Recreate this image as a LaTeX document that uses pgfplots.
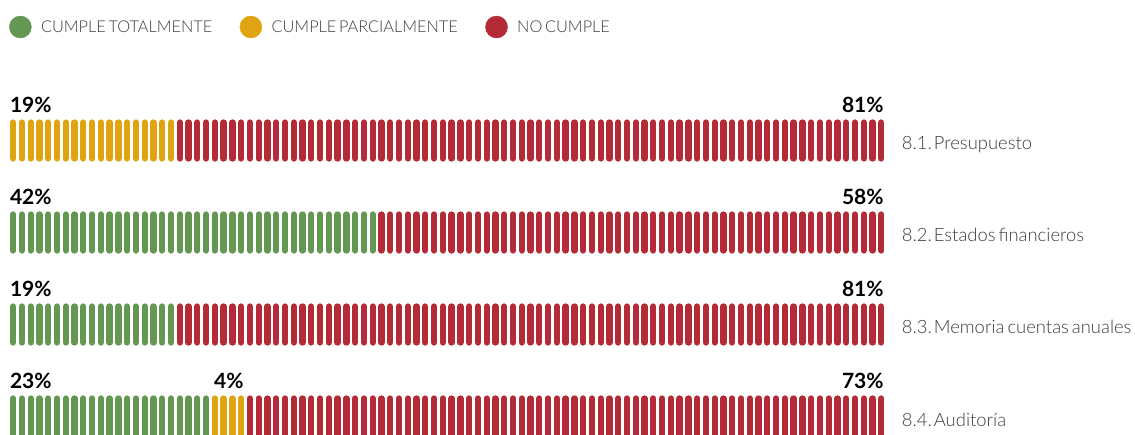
\documentclass[border=0pt]{standalone}
\usepackage{pgfplots}
\pgfplotsset{compat=1.18}
\usepackage{fontspec}
\setmainfont{Lato}[UprightFont={* Light},BoldFont={* Bold},WordSpace=0.6]
\definecolor{cgreen}{RGB}{100,152,82}
\definecolor{cyellow}{RGB}{224,164,18}
\definecolor{cred}{RGB}{180,43,55}
\definecolor{ctext}{RGB}{60,60,60}
\begin{document}
\frenchspacing
\begin{tikzpicture}
\begin{axis}[
  at={(0,0)}, anchor=south west,
  scale only axis, width=1135pt, height=435pt,
  xmin=-1.5, xmax=127.93,
  ymin=-0.5272, ymax=4.2011, y dir=reverse,
  hide axis, clip=false,
  pill/.style={only marks, mark=|, mark size=18pt,
    mark options={line width=6.3pt, line cap=round}},
  legend columns=3,
  legend image code/.code={\fill (0pt,0pt) circle (11pt);},
  legend style={at={(rel axis cs:0.0079,0.9379)}, anchor=west, draw=none, fill=none,
    font=\fontsize{16.3}{18}\selectfont\color{ctext},
    inner sep=0pt,
    nodes={inner xsep=9.5pt},
    /tikz/every even column/.append style={column sep=18pt}},
]
\addplot[pill, color=cgreen] coordinates {
(0,2)(1,2)(2,2)(3,2)(4,2)(5,2)(6,2)(7,2)(8,2)(9,2)
(10,2)(11,2)(12,2)(13,2)(14,2)(15,2)(16,2)(17,2)(18,2)(19,2)
(20,2)(21,2)(22,2)(23,2)(24,2)(25,2)(26,2)(27,2)(28,2)(29,2)
(30,2)(31,2)(32,2)(33,2)(34,2)(35,2)(36,2)(37,2)(38,2)(39,2)
(40,2)(41,2)
(0,3)(1,3)(2,3)(3,3)(4,3)(5,3)(6,3)(7,3)(8,3)(9,3)
(10,3)(11,3)(12,3)(13,3)(14,3)(15,3)(16,3)(17,3)(18,3)
(0,4)(1,4)(2,4)(3,4)(4,4)(5,4)(6,4)(7,4)(8,4)(9,4)
(10,4)(11,4)(12,4)(13,4)(14,4)(15,4)(16,4)(17,4)(18,4)(19,4)
(20,4)(21,4)(22,4)
};
\addlegendentry{CUMPLE TOTALMENTE}
\addplot[pill, color=cyellow] coordinates {
(0,1)(1,1)(2,1)(3,1)(4,1)(5,1)(6,1)(7,1)(8,1)(9,1)
(10,1)(11,1)(12,1)(13,1)(14,1)(15,1)(16,1)(17,1)(18,1)
(23,4)(24,4)(25,4)(26,4)
};
\addlegendentry{CUMPLE PARCIALMENTE}
\addplot[pill, color=cred] coordinates {
(19,1)(20,1)(21,1)(22,1)(23,1)(24,1)(25,1)(26,1)(27,1)(28,1)(29,1)
(30,1)(31,1)(32,1)(33,1)(34,1)(35,1)(36,1)(37,1)(38,1)(39,1)
(40,1)(41,1)(42,1)(43,1)(44,1)(45,1)(46,1)(47,1)(48,1)(49,1)
(50,1)(51,1)(52,1)(53,1)(54,1)(55,1)(56,1)(57,1)(58,1)(59,1)
(60,1)(61,1)(62,1)(63,1)(64,1)(65,1)(66,1)(67,1)(68,1)(69,1)
(70,1)(71,1)(72,1)(73,1)(74,1)(75,1)(76,1)(77,1)(78,1)(79,1)
(80,1)(81,1)(82,1)(83,1)(84,1)(85,1)(86,1)(87,1)(88,1)(89,1)
(90,1)(91,1)(92,1)(93,1)(94,1)(95,1)(96,1)(97,1)(98,1)(99,1)
(42,2)(43,2)(44,2)(45,2)(46,2)(47,2)(48,2)(49,2)
(50,2)(51,2)(52,2)(53,2)(54,2)(55,2)(56,2)(57,2)(58,2)(59,2)
(60,2)(61,2)(62,2)(63,2)(64,2)(65,2)(66,2)(67,2)(68,2)(69,2)
(70,2)(71,2)(72,2)(73,2)(74,2)(75,2)(76,2)(77,2)(78,2)(79,2)
(80,2)(81,2)(82,2)(83,2)(84,2)(85,2)(86,2)(87,2)(88,2)(89,2)
(90,2)(91,2)(92,2)(93,2)(94,2)(95,2)(96,2)(97,2)(98,2)(99,2)
(19,3)(20,3)(21,3)(22,3)(23,3)(24,3)(25,3)(26,3)(27,3)(28,3)(29,3)
(30,3)(31,3)(32,3)(33,3)(34,3)(35,3)(36,3)(37,3)(38,3)(39,3)
(40,3)(41,3)(42,3)(43,3)(44,3)(45,3)(46,3)(47,3)(48,3)(49,3)
(50,3)(51,3)(52,3)(53,3)(54,3)(55,3)(56,3)(57,3)(58,3)(59,3)
(60,3)(61,3)(62,3)(63,3)(64,3)(65,3)(66,3)(67,3)(68,3)(69,3)
(70,3)(71,3)(72,3)(73,3)(74,3)(75,3)(76,3)(77,3)(78,3)(79,3)
(80,3)(81,3)(82,3)(83,3)(84,3)(85,3)(86,3)(87,3)(88,3)(89,3)
(90,3)(91,3)(92,3)(93,3)(94,3)(95,3)(96,3)(97,3)(98,3)(99,3)
(27,4)(28,4)(29,4)
(30,4)(31,4)(32,4)(33,4)(34,4)(35,4)(36,4)(37,4)(38,4)(39,4)
(40,4)(41,4)(42,4)(43,4)(44,4)(45,4)(46,4)(47,4)(48,4)(49,4)
(50,4)(51,4)(52,4)(53,4)(54,4)(55,4)(56,4)(57,4)(58,4)(59,4)
(60,4)(61,4)(62,4)(63,4)(64,4)(65,4)(66,4)(67,4)(68,4)(69,4)
(70,4)(71,4)(72,4)(73,4)(74,4)(75,4)(76,4)(77,4)(78,4)(79,4)
(80,4)(81,4)(82,4)(83,4)(84,4)(85,4)(86,4)(87,4)(88,4)(89,4)
(90,4)(91,4)(92,4)(93,4)(94,4)(95,4)(96,4)(97,4)(98,4)(99,4)
};
\addlegendentry{NO CUMPLE}
% percentage labels
\begin{scope}[every node/.style={font=\bfseries\fontsize{21}{21}\selectfont, inner sep=0pt}]
\node[anchor=base west, yshift=27.5pt] at (axis cs:-0.376,1) {19\%};
\node[anchor=base east, yshift=27.5pt] at (axis cs:99.28,1) {81\%};
\node[anchor=base west, yshift=27.5pt] at (axis cs:-0.376,2) {42\%};
\node[anchor=base east, yshift=27.5pt] at (axis cs:99.28,2) {58\%};
\node[anchor=base west, yshift=27.5pt] at (axis cs:-0.376,3) {19\%};
\node[anchor=base east, yshift=27.5pt] at (axis cs:99.28,3) {81\%};
\node[anchor=base west, yshift=27.5pt] at (axis cs:-0.376,4) {23\%};
\node[anchor=base west, yshift=27.5pt] at (axis cs:22.9,4) {4\%};
\node[anchor=base east, yshift=27.5pt] at (axis cs:99.28,4) {73\%};
\end{scope}
% category labels
\begin{scope}[every node/.style={font=\fontsize{18.4}{18.4}\selectfont, text=ctext, inner sep=0pt, anchor=base west, yshift=-9.5pt}]
\node at (axis cs:101.33,1) {8.1.\hspace{2pt}Presupuesto};
\node at (axis cs:101.33,2) {8.2.\hspace{2pt}Estados financieros};
\node at (axis cs:101.33,3) {8.3.\hspace{2pt}Memoria cuentas anuales};
\node at (axis cs:101.33,4) {8.4.\hspace{2pt}Auditoría};
\end{scope}
\end{axis}
\pgfresetboundingbox
\useasboundingbox (0,0) rectangle (1135pt,435pt);
\end{tikzpicture}
\end{document}
